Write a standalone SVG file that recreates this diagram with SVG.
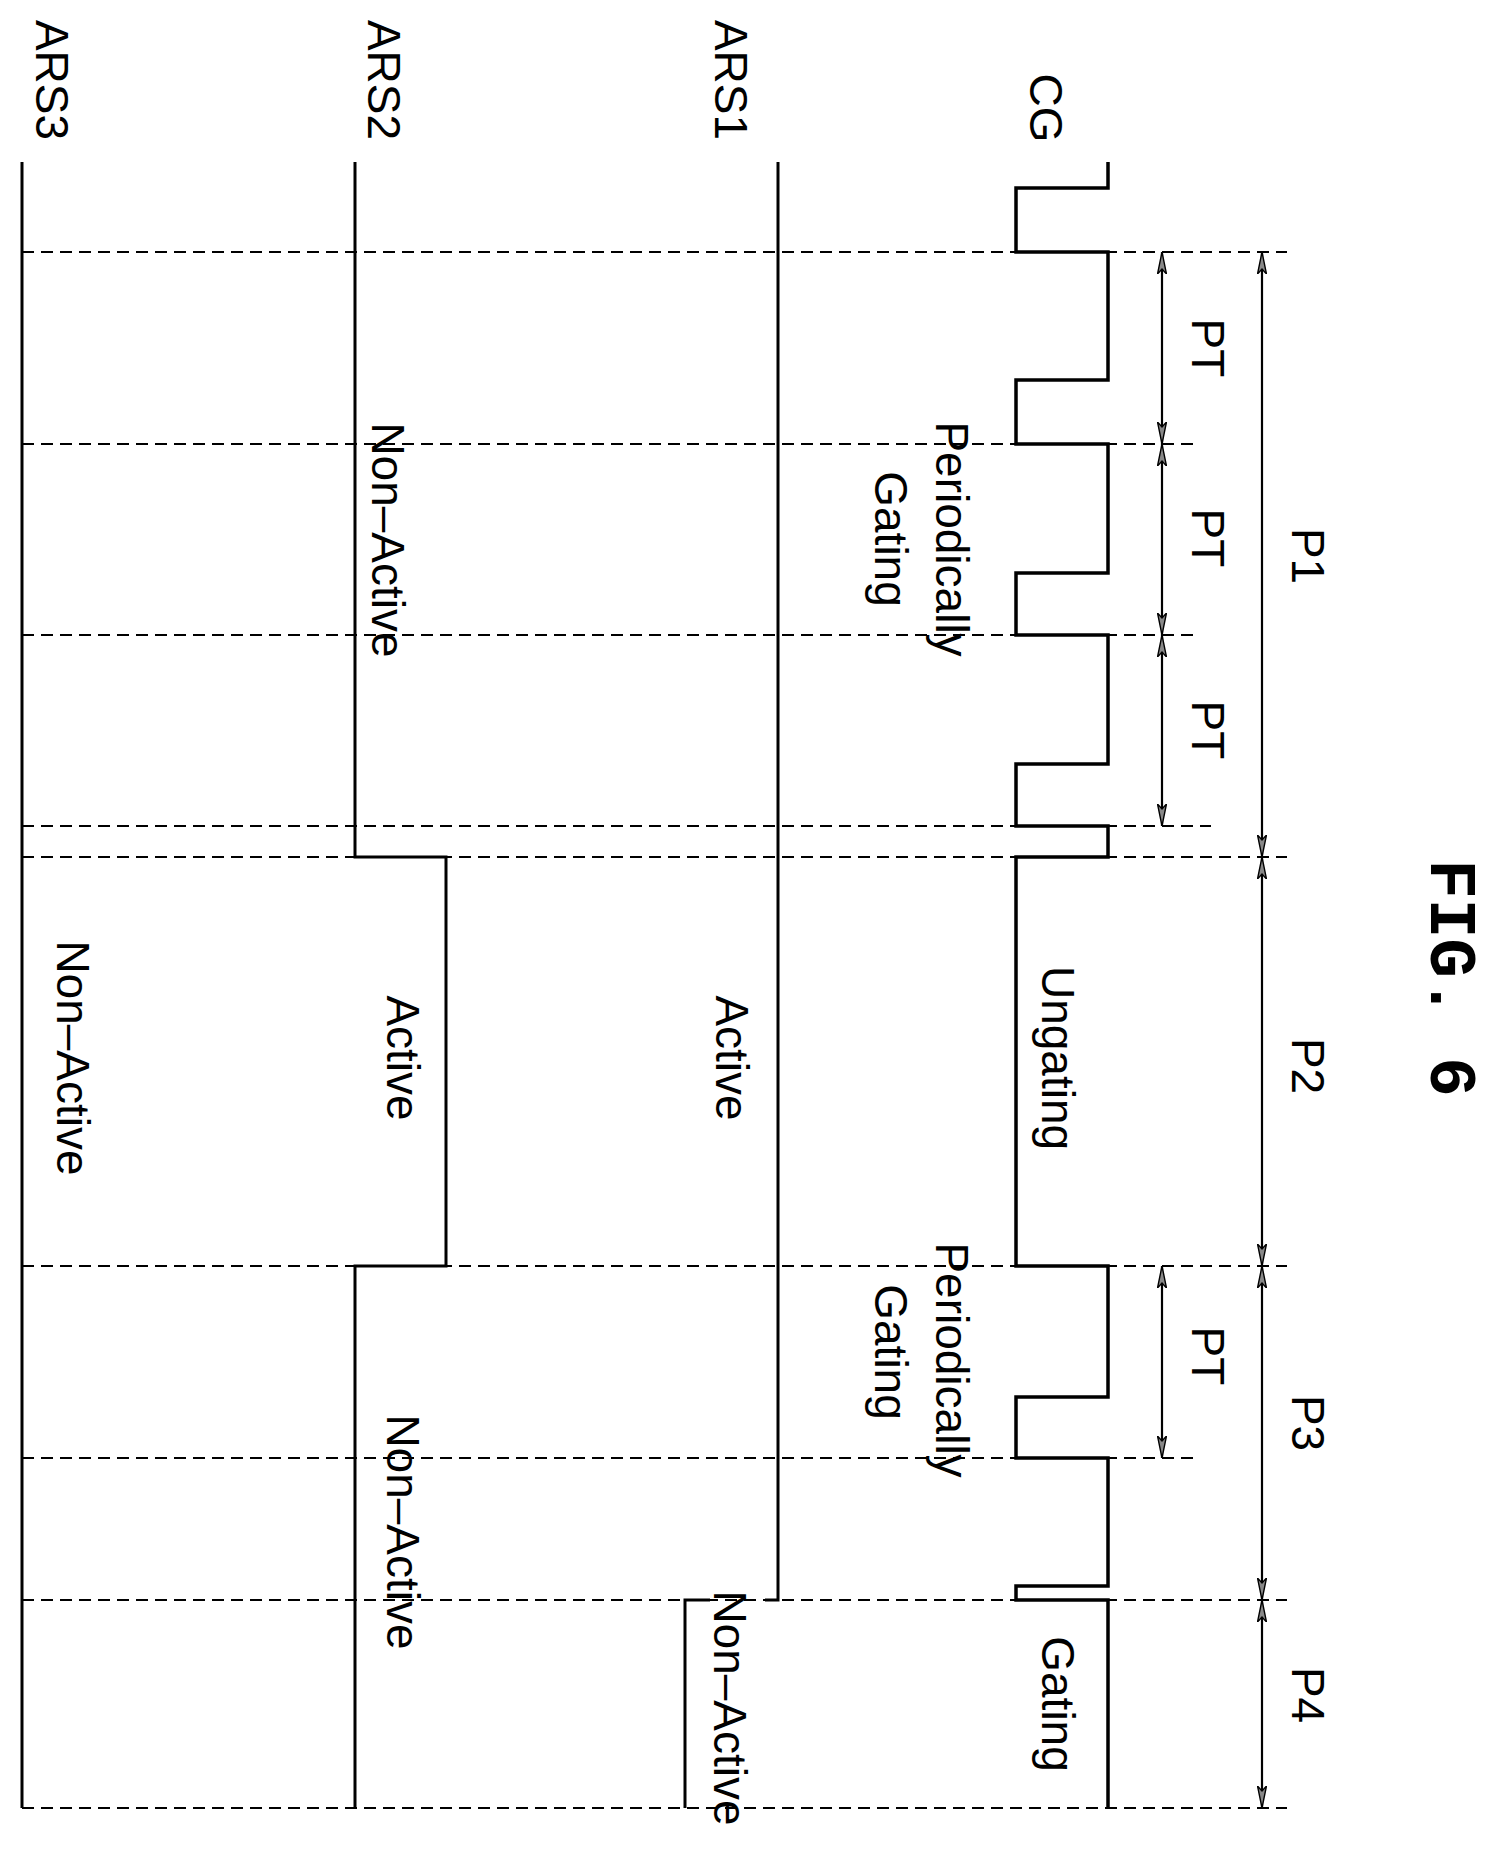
<svg xmlns="http://www.w3.org/2000/svg" width="1499" height="1854" viewBox="0 0 1499 1854">
<style>
.sig{fill:none;stroke:#000;stroke-width:3.5}
.ars{fill:none;stroke:#000;stroke-width:3}
.dash{stroke:#000;stroke-width:1.8;stroke-dasharray:12,7}
.dim{stroke:#000;stroke-width:2.2;marker-start:url(#ah);marker-end:url(#ah)}
text{font-family:"Liberation Sans",Arial,sans-serif;font-size:46px;fill:#000;text-anchor:middle;dominant-baseline:central}
.fig{font-family:"Liberation Mono","Courier New",monospace;font-weight:bold;font-size:66px}
</style>
<defs>
<marker id="ah" viewBox="0 0 22 10" refX="22" refY="5" markerWidth="22" markerHeight="10" markerUnits="userSpaceOnUse" orient="auto-start-reverse">
<path d="M0,0.5 L22,5 L0,9.5 L5,5 Z" fill="#888" stroke="#000" stroke-width="1.4"/>
</marker>
</defs>
<g id="connectors">
<line class="dash" x1="22" y1="252" x2="1287" y2="252"/>
<line class="dash" x1="22" y1="444" x2="1197" y2="444"/>
<line class="dash" x1="22" y1="635" x2="1197" y2="635"/>
<line class="dash" x1="22" y1="826" x2="1211" y2="826"/>
<line class="dash" x1="22" y1="857" x2="1287" y2="857"/>
<line class="dash" x1="22" y1="1266" x2="1287" y2="1266"/>
<line class="dash" x1="22" y1="1458" x2="1197" y2="1458"/>
<line class="dash" x1="22" y1="1600" x2="1287" y2="1600"/>
<line class="dash" x1="22" y1="1808" x2="1287" y2="1808"/>
<line class="dim" x1="1162" y1="252" x2="1162" y2="444"/>
<line class="dim" x1="1162" y1="444" x2="1162" y2="635"/>
<line class="dim" x1="1162" y1="635" x2="1162" y2="826"/>
<line class="dim" x1="1162" y1="1266" x2="1162" y2="1458"/>
<line class="dim" x1="1262" y1="252" x2="1262" y2="857"/>
<line class="dim" x1="1262" y1="857" x2="1262" y2="1266"/>
<line class="dim" x1="1262" y1="1266" x2="1262" y2="1600"/>
<line class="dim" x1="1262" y1="1600" x2="1262" y2="1808"/>
</g>
<g id="CG">
<path class="sig" d="M1108,162 V188 H1016 V252 H1108 V380 H1016 V444 H1108 V573 H1016 V635 H1108 V764 H1016 V826 H1108 V857 H1016 V1266 H1108 V1397 H1016 V1458 H1108 V1586 H1016 V1600 H1108 V1808"/>
<text transform="translate(1046,108) rotate(90)">CG</text>
</g>
<g id="ARS1">
<path class="ars" d="M778,162 V1600 H765"/>
<path class="ars" d="M685,1808 V1600 H710"/>
<text transform="translate(731,80) rotate(90)">ARS1</text>
</g>
<g id="ARS2">
<path class="ars" d="M355,162 V857 H446 V1266 H355 V1808"/>
<text transform="translate(384,80) rotate(90)">ARS2</text>
</g>
<g id="ARS3">
<path class="ars" d="M22,162 V1808"/>
<text transform="translate(52,80) rotate(90)">ARS3</text>
</g>
<g id="labels">
<text transform="translate(952,539) rotate(90)">Periodically</text>
<text transform="translate(891,539) rotate(90)">Gating</text>
<text transform="translate(388,540) rotate(90)">Non–Active</text>
<text transform="translate(1208,348) rotate(90)">PT</text>
<text transform="translate(1208,538) rotate(90)">PT</text>
<text transform="translate(1208,730) rotate(90)">PT</text>
<text transform="translate(1308,556) rotate(90)">P1</text>
<text transform="translate(1058,1058) rotate(90)">Ungating</text>
<text transform="translate(732,1058) rotate(90)">Active</text>
<text transform="translate(403,1058) rotate(90)">Active</text>
<text transform="translate(73,1058) rotate(90)">Non–Active</text>
<text transform="translate(1308,1066) rotate(90)">P2</text>
<text transform="translate(952,1360) rotate(90)">Periodically</text>
<text transform="translate(891,1352) rotate(90)">Gating</text>
<text transform="translate(1208,1356) rotate(90)">PT</text>
<text transform="translate(1308,1423) rotate(90)">P3</text>
<text transform="translate(403,1532) rotate(90)">Non–Active</text>
<text transform="translate(1058,1704) rotate(90)">Gating</text>
<text transform="translate(1308,1695) rotate(90)">P4</text>
<text transform="translate(730,1708) rotate(90)">Non–Active</text>
<text class="fig" transform="translate(1448,978) rotate(90)">FIG. 6</text>
</g>
</svg>
